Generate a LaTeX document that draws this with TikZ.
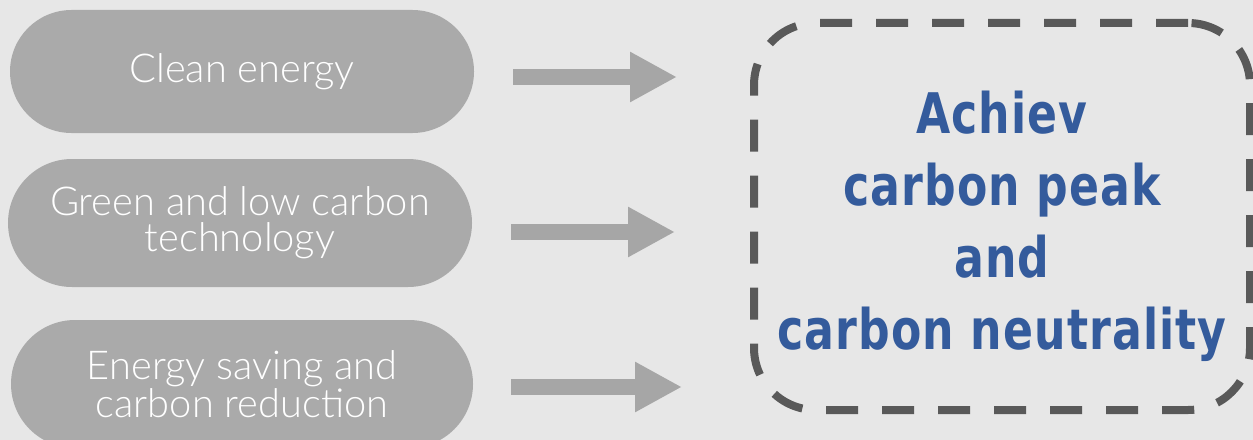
\documentclass[tikz,border=0pt]{standalone}
\usepackage{fontspec}
\usepackage{xcolor}
\usetikzlibrary{arrows.meta,shapes.misc}

\IfFontExistsTF{Lato Light}{\newfontfamily\pillfont{Lato Light}}{\newfontfamily\pillfont{Lato}}
\newfontfamily\goalfont{DejaVu Sans}[FakeStretch=0.79,LetterSpace=2]

\definecolor{bgcol}{HTML}{E7E7E7}
\definecolor{pillcol}{HTML}{AAAAAA}
\definecolor{arrowcol}{HTML}{A6A6A6}
\definecolor{dashcol}{HTML}{595959}
\definecolor{goalblue}{HTML}{345B9C}

\tikzset{
  pill/.style={rounded rectangle, fill=pillcol, text=white, minimum width=11.6cm,
    align=center, inner sep=0pt, font=\pillfont\fontsize{28.3}{25.6}\selectfont},
  goalbox/.style={draw=dashcol, line width=0.2cm, rounded corners=1.55cm,
    dash pattern=on 0.8cm off 0.6cm, minimum width=12.4cm, minimum height=9.675cm},
  goaltext/.style={text=goalblue, align=center,
    font=\goalfont\bfseries\fontsize{39.8}{51.2}\selectfont},
  flow/.style={draw=arrowcol, line width=0.4cm,
    -{Triangle[length=1.175cm,width=1.175cm]}}
}

\begin{document}
\begin{tikzpicture}
\useasboundingbox (0,0) rectangle (31.325,-11);
\fill[bgcol] (0,0) rectangle (31.325,-11);

% Measures
\node[pill, minimum height=3.075cm] (clean) at (6.05,-1.7875) {Clean energy};
\node[pill, minimum height=3.2cm] (green) at (6.0,-5.575) {Green and low carbon\\technology};
\node[pill, minimum height=3.2cm, minimum width=11.55cm] (saving) at (6.05,-9.6) {Energy saving and\\carbon reduction};

% Goal
\node[goalbox] (goal) at (25.05,-5.4125) {};
\node[goaltext] (goallbl) at ([yshift=-0.25cm]goal.center) {Achiev\\carbon peak\\and\\carbon neutrality};

% Arrows
\coordinate (a1) at ([yshift=-0.1375cm]clean.east);
\coordinate (a2) at ([yshift=-0.225cm]green.east);
\coordinate (a3) at ([yshift=-0.075cm]saving.east);
\draw[flow, shorten <=0.975cm, shorten >=1.825cm] (a1) -- (a1 -| goal.west);
\draw[flow, shorten <=0.975cm, shorten >=1.875cm] (a2) -- (a2 -| goal.west);
\draw[flow, shorten <=0.95cm, shorten >=1.7cm] (a3) -- (a3 -| goal.west);
\end{tikzpicture}
\end{document}
